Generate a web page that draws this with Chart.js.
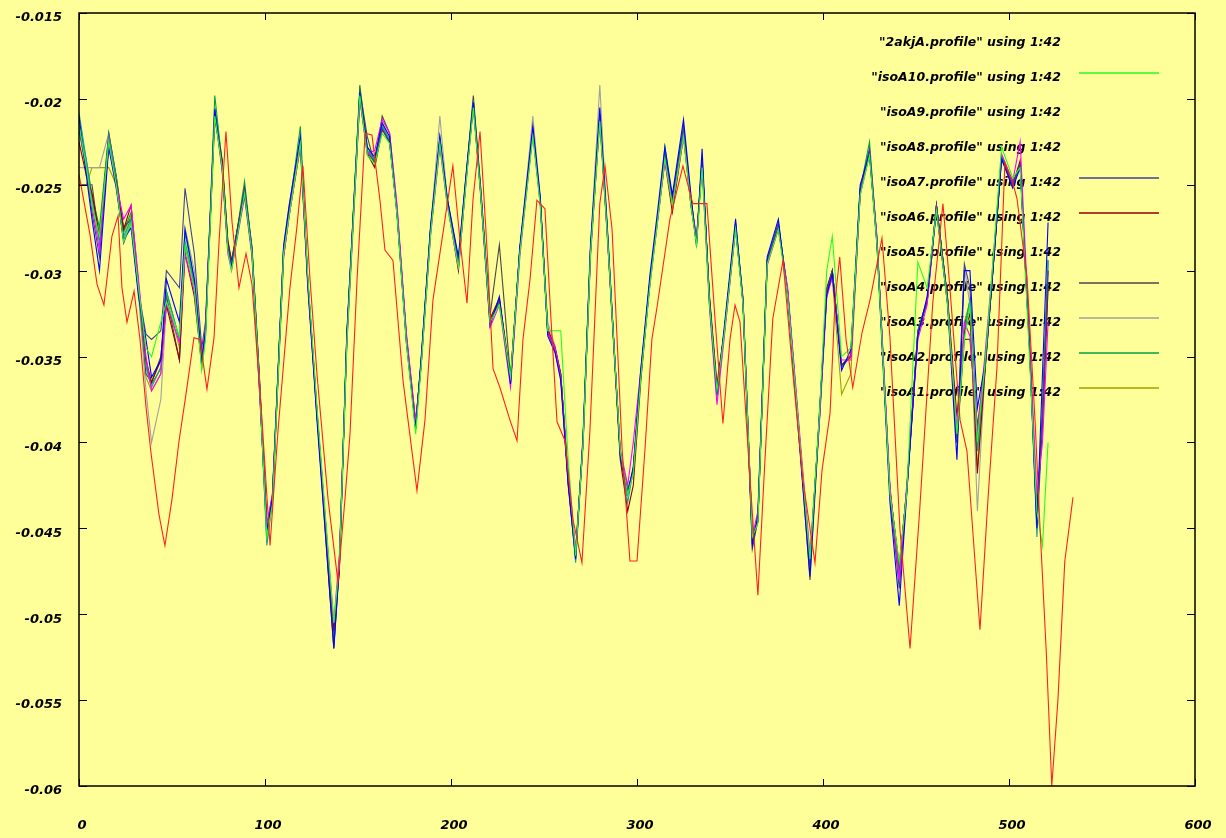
<!DOCTYPE html>
<html>
<head>
<meta charset="utf-8">
<script src="https://cdn.jsdelivr.net/npm/chart.js@4"></script>
<style>
html, body { margin: 0; padding: 0; background: #ffff99; }
#wrap { width: 1226px; height: 838px; }
</style>
</head>
<body>
<div id="wrap"><canvas id="chart" width="1226" height="838"></canvas></div>
<script>
// x ticks / y ticks
const xTicks = [0, 100, 200, 300, 400, 500, 600];
const yTicks = [-0.015, -0.02, -0.025, -0.03, -0.035, -0.04, -0.045, -0.05, -0.055, -0.06];

// 2akjA.profile (red)
const redX = [0, 5.9, 9.7, 13.4, 17.7, 21, 23.1, 25.8, 29.6, 32.8,
  36, 38.7, 43, 46.2, 50, 53.8, 57.5, 61.8, 65, 68.8,
  72.6, 75.3, 79, 82.3, 86, 89.8, 93, 98.4, 102.7, 107,
  113.4, 117, 120.4, 124.2, 128, 133.9, 139.2, 143, 145.7, 149.5,
  153.8, 157.5, 161.8, 164.5, 168.8, 174.2, 181.7, 186, 190.3, 195.7,
  201, 204.8, 208.6, 211.8, 215.6, 219.4, 222.6, 226.3, 231.7, 235.5,
  238.7, 242.5, 246.2, 250.5, 253.8, 257, 261.3, 265.6, 270.4, 274.7,
  280, 282.8, 286.6, 292, 296.2, 300, 304.3, 308, 310.8, 317.7,
  324.7, 330, 337.6, 342, 346.2, 350, 352.7, 355.4, 359.7, 365,
  368.8, 373, 378.5, 383.9, 389.2, 395.7, 399.5, 403.8, 406.5, 409,
  412.4, 416, 421, 425.3, 431.7, 436, 441.4, 446.8, 452, 459,
  464.5, 468.3, 473.7, 477.4, 484.4, 488.7, 493.5, 497.8, 501.6, 504.3,
  509.7, 514, 516.7, 520, 523, 526.3, 530, 534.4];
const redY = [-0.0244, -0.0279, -0.0308, -0.0320, -0.0280, -0.0268, -0.0310, -0.0330, -0.0312, -0.0340,
  -0.0379, -0.0406, -0.0442, -0.0460, -0.0433, -0.0399, -0.0372, -0.0339, -0.0340, -0.0369,
  -0.0339, -0.0283, -0.0219, -0.0272, -0.0310, -0.0290, -0.0308, -0.0387, -0.0460, -0.0393,
  -0.0310, -0.0276, -0.0239, -0.0305, -0.0361, -0.0433, -0.0481, -0.0433, -0.0395, -0.0305,
  -0.0220, -0.0221, -0.0259, -0.0288, -0.0294, -0.0364, -0.0428, -0.0387, -0.0317, -0.0278,
  -0.0239, -0.0282, -0.0319, -0.0259, -0.0219, -0.0288, -0.0357, -0.0368, -0.0387, -0.0399,
  -0.0340, -0.0305, -0.0259, -0.0264, -0.0329, -0.0388, -0.0399, -0.0445, -0.0470, -0.0393,
  -0.0261, -0.0239, -0.0276, -0.0404, -0.0469, -0.0469, -0.0404, -0.0340, -0.0321, -0.0270,
  -0.0239, -0.0261, -0.0261, -0.0329, -0.0389, -0.0340, -0.0320, -0.0330, -0.0404, -0.0489,
  -0.0410, -0.0328, -0.0294, -0.0361, -0.0422, -0.0470, -0.0416, -0.0383, -0.0317, -0.0292,
  -0.0340, -0.0368, -0.0336, -0.0317, -0.0281, -0.0339, -0.0451, -0.0520, -0.0439, -0.0319,
  -0.0261, -0.0311, -0.0387, -0.0405, -0.0509, -0.0433, -0.0357, -0.0237, -0.0247, -0.0258,
  -0.0304, -0.0387, -0.0450, -0.0521, -0.0600, -0.0550, -0.0469, -0.0432];

// residue positions shared by the isoA profiles
const profileX = [0, 4, 7, 11, 16, 20, 24, 28, 32, 36,
  39, 44, 47, 54, 57, 62, 66, 68, 73, 77,
  80, 82, 89, 93, 97, 101, 104, 110, 113, 119,
  123, 128, 137, 140, 144, 151, 155, 159, 163, 167,
  171, 176, 181, 184, 189, 194, 198, 204, 208, 212,
  216, 221, 226, 232, 237, 244, 248, 252, 256, 259,
  263, 267, 271, 275, 280, 284, 291, 295, 298, 302,
  307, 311, 315, 319, 325, 329, 332, 335, 339, 343,
  347, 353, 357, 362, 365, 370, 376, 381, 388, 393,
  398, 402, 405, 410, 415, 420, 425, 429, 436, 441,
  445, 451, 456, 461, 467, 472, 476, 479, 483, 487,
  491, 496, 502, 506, 511, 515, 518, 521];

const isoA10 = [-0.0215, -0.0240, -0.0262, -0.0280, -0.0225, -0.0250, -0.0283, -0.0272, -0.0310, -0.0345,
  -0.0350, -0.0330, -0.0318, -0.0338, -0.0285, -0.0310, -0.0358, -0.0340, -0.0210, -0.0240,
  -0.0288, -0.0300, -0.0255, -0.0290, -0.0366, -0.0455, -0.0436, -0.0290, -0.0268, -0.0226,
  -0.0303, -0.0380, -0.0505, -0.0470, -0.0342, -0.0198, -0.0233, -0.0238, -0.0220, -0.0226,
  -0.0268, -0.0342, -0.0395, -0.0355, -0.0279, -0.0226, -0.0262, -0.0298, -0.0250, -0.0205,
  -0.0256, -0.0330, -0.0320, -0.0362, -0.0290, -0.0222, -0.0262, -0.0335, -0.0335, -0.0335,
  -0.0410, -0.0466, -0.0400, -0.0290, -0.0213, -0.0278, -0.0405, -0.0430, -0.0418, -0.0363,
  -0.0308, -0.0272, -0.0235, -0.0262, -0.0222, -0.0262, -0.0285, -0.0240, -0.0320, -0.0370,
  -0.0336, -0.0276, -0.0320, -0.0455, -0.0447, -0.0296, -0.0276, -0.0315, -0.0405, -0.0468,
  -0.0385, -0.0300, -0.0280, -0.0350, -0.0345, -0.0256, -0.0233, -0.0285, -0.0430, -0.0470,
  -0.0430, -0.0295, -0.0310, -0.0265, -0.0320, -0.0395, -0.0340, -0.0320, -0.0400, -0.0355,
  -0.0300, -0.0228, -0.0246, -0.0240, -0.0350, -0.0440, -0.0460, -0.0400];
const isoA9 = [-0.0210, -0.0245, -0.0270, -0.0300, -0.0228, -0.0252, -0.0282, -0.0275, -0.0315, -0.0340,
  -0.0362, -0.0352, -0.0305, -0.0330, -0.0276, -0.0305, -0.0352, -0.0335, -0.0206, -0.0240,
  -0.0287, -0.0298, -0.0255, -0.0290, -0.0368, -0.0452, -0.0432, -0.0286, -0.0262, -0.0222,
  -0.0308, -0.0388, -0.0520, -0.0472, -0.0336, -0.0196, -0.0228, -0.0234, -0.0214, -0.0222,
  -0.0268, -0.0342, -0.0392, -0.0350, -0.0274, -0.0222, -0.0258, -0.0292, -0.0245, -0.0202,
  -0.0255, -0.0332, -0.0315, -0.0366, -0.0286, -0.0216, -0.0257, -0.0338, -0.0348, -0.0364,
  -0.0425, -0.0468, -0.0396, -0.0285, -0.0205, -0.0274, -0.0408, -0.0430, -0.0414, -0.0358,
  -0.0302, -0.0266, -0.0228, -0.0256, -0.0212, -0.0256, -0.0286, -0.0229, -0.0320, -0.0372,
  -0.0332, -0.0270, -0.0320, -0.0460, -0.0442, -0.0292, -0.0270, -0.0316, -0.0410, -0.0478,
  -0.0384, -0.0314, -0.0302, -0.0358, -0.0346, -0.0250, -0.0232, -0.0285, -0.0435, -0.0495,
  -0.0430, -0.0338, -0.0315, -0.0265, -0.0320, -0.0410, -0.0300, -0.0300, -0.0380, -0.0355,
  -0.0305, -0.0235, -0.0252, -0.0240, -0.0345, -0.0450, -0.0360, -0.0272];
const isoA8 = [-0.0215, -0.0240, -0.0262, -0.0288, -0.0224, -0.0250, -0.0270, -0.0262, -0.0305, -0.0350,
  -0.0370, -0.0360, -0.0318, -0.0342, -0.0290, -0.0312, -0.0352, -0.0332, -0.0208, -0.0242,
  -0.0290, -0.0300, -0.0257, -0.0292, -0.0370, -0.0448, -0.0430, -0.0292, -0.0268, -0.0227,
  -0.0310, -0.0385, -0.0505, -0.0465, -0.0344, -0.0200, -0.0232, -0.0230, -0.0212, -0.0220,
  -0.0262, -0.0336, -0.0388, -0.0355, -0.0280, -0.0228, -0.0262, -0.0298, -0.0250, -0.0204,
  -0.0257, -0.0333, -0.0320, -0.0368, -0.0292, -0.0220, -0.0262, -0.0336, -0.0345, -0.0362,
  -0.0420, -0.0462, -0.0402, -0.0292, -0.0212, -0.0280, -0.0404, -0.0425, -0.0400, -0.0358,
  -0.0308, -0.0272, -0.0236, -0.0262, -0.0222, -0.0260, -0.0280, -0.0240, -0.0322, -0.0378,
  -0.0338, -0.0276, -0.0318, -0.0455, -0.0440, -0.0297, -0.0276, -0.0310, -0.0402, -0.0465,
  -0.0390, -0.0316, -0.0303, -0.0352, -0.0352, -0.0256, -0.0232, -0.0280, -0.0425, -0.0480,
  -0.0425, -0.0340, -0.0320, -0.0264, -0.0320, -0.0392, -0.0330, -0.0338, -0.0395, -0.0350,
  -0.0300, -0.0232, -0.0248, -0.0225, -0.0340, -0.0430, -0.0400, -0.0330];
const isoA7 = [-0.0218, -0.0242, -0.0266, -0.0292, -0.0226, -0.0250, -0.0284, -0.0272, -0.0312, -0.0337,
  -0.0340, -0.0335, -0.0300, -0.0310, -0.0252, -0.0290, -0.0345, -0.0330, -0.0208, -0.0242,
  -0.0286, -0.0296, -0.0252, -0.0286, -0.0362, -0.0450, -0.0430, -0.0287, -0.0264, -0.0224,
  -0.0306, -0.0384, -0.0518, -0.0470, -0.0338, -0.0197, -0.0231, -0.0237, -0.0217, -0.0226,
  -0.0266, -0.0340, -0.0392, -0.0352, -0.0276, -0.0225, -0.0260, -0.0296, -0.0248, -0.0203,
  -0.0255, -0.0330, -0.0318, -0.0365, -0.0288, -0.0219, -0.0260, -0.0336, -0.0347, -0.0362,
  -0.0423, -0.0467, -0.0398, -0.0288, -0.0210, -0.0276, -0.0407, -0.0428, -0.0416, -0.0361,
  -0.0305, -0.0270, -0.0232, -0.0258, -0.0216, -0.0258, -0.0283, -0.0234, -0.0318, -0.0370,
  -0.0335, -0.0272, -0.0316, -0.0458, -0.0446, -0.0294, -0.0272, -0.0312, -0.0407, -0.0472,
  -0.0387, -0.0312, -0.0300, -0.0356, -0.0350, -0.0252, -0.0229, -0.0282, -0.0430, -0.0485,
  -0.0430, -0.0336, -0.0318, -0.0262, -0.0318, -0.0400, -0.0296, -0.0310, -0.0400, -0.0358,
  -0.0304, -0.0234, -0.0250, -0.0238, -0.0345, -0.0448, -0.0385, -0.0300];
const isoA6 = [-0.0225, -0.0245, -0.0255, -0.0280, -0.0228, -0.0248, -0.0276, -0.0262, -0.0308, -0.0352,
  -0.0365, -0.0352, -0.0320, -0.0352, -0.0290, -0.0315, -0.0355, -0.0335, -0.0212, -0.0236,
  -0.0283, -0.0295, -0.0252, -0.0288, -0.0365, -0.0448, -0.0435, -0.0292, -0.0268, -0.0228,
  -0.0306, -0.0382, -0.0510, -0.0475, -0.0340, -0.0200, -0.0232, -0.0240, -0.0218, -0.0225,
  -0.0266, -0.0338, -0.0388, -0.0354, -0.0278, -0.0226, -0.0260, -0.0300, -0.0248, -0.0203,
  -0.0255, -0.0328, -0.0316, -0.0362, -0.0288, -0.0220, -0.0260, -0.0334, -0.0345, -0.0360,
  -0.0420, -0.0464, -0.0400, -0.0290, -0.0212, -0.0278, -0.0410, -0.0440, -0.0425, -0.0365,
  -0.0306, -0.0271, -0.0236, -0.0266, -0.0222, -0.0262, -0.0283, -0.0238, -0.0315, -0.0366,
  -0.0335, -0.0275, -0.0318, -0.0455, -0.0446, -0.0296, -0.0275, -0.0312, -0.0405, -0.0470,
  -0.0386, -0.0310, -0.0300, -0.0355, -0.0350, -0.0255, -0.0232, -0.0283, -0.0428, -0.0472,
  -0.0428, -0.0336, -0.0318, -0.0262, -0.0316, -0.0385, -0.0336, -0.0325, -0.0418, -0.0360,
  -0.0305, -0.0235, -0.0250, -0.0236, -0.0342, -0.0440, -0.0390, -0.0310];
const isoA5 = [-0.0208, -0.0236, -0.0258, -0.0284, -0.0222, -0.0246, -0.0280, -0.0270, -0.0312, -0.0356,
  -0.0368, -0.0356, -0.0312, -0.0340, -0.0283, -0.0306, -0.0356, -0.0338, -0.0205, -0.0238,
  -0.0285, -0.0297, -0.0254, -0.0288, -0.0364, -0.0460, -0.0434, -0.0288, -0.0265, -0.0224,
  -0.0305, -0.0383, -0.0512, -0.0468, -0.0339, -0.0196, -0.0230, -0.0236, -0.0216, -0.0224,
  -0.0265, -0.0339, -0.0390, -0.0352, -0.0276, -0.0224, -0.0259, -0.0295, -0.0247, -0.0201,
  -0.0253, -0.0329, -0.0317, -0.0364, -0.0288, -0.0218, -0.0259, -0.0335, -0.0346, -0.0361,
  -0.0422, -0.0470, -0.0399, -0.0288, -0.0209, -0.0276, -0.0406, -0.0435, -0.0416, -0.0361,
  -0.0305, -0.0270, -0.0233, -0.0259, -0.0218, -0.0259, -0.0282, -0.0236, -0.0317, -0.0369,
  -0.0335, -0.0273, -0.0317, -0.0457, -0.0445, -0.0294, -0.0273, -0.0312, -0.0406, -0.0471,
  -0.0387, -0.0312, -0.0300, -0.0355, -0.0349, -0.0253, -0.0230, -0.0282, -0.0428, -0.0474,
  -0.0428, -0.0335, -0.0317, -0.0262, -0.0317, -0.0399, -0.0335, -0.0317, -0.0405, -0.0358,
  -0.0304, -0.0233, -0.0250, -0.0238, -0.0343, -0.0455, -0.0387, -0.0294];
const isoA4 = [-0.0250, -0.0250, -0.0250, -0.0282, -0.0220, -0.0245, -0.0275, -0.0270, -0.0310, -0.0360,
  -0.0365, -0.0350, -0.0315, -0.0352, -0.0285, -0.0308, -0.0352, -0.0336, -0.0206, -0.0236,
  -0.0282, -0.0294, -0.0254, -0.0287, -0.0362, -0.0448, -0.0432, -0.0288, -0.0266, -0.0225,
  -0.0306, -0.0385, -0.0520, -0.0470, -0.0338, -0.0195, -0.0222, -0.0238, -0.0210, -0.0220,
  -0.0264, -0.0338, -0.0392, -0.0352, -0.0276, -0.0224, -0.0258, -0.0294, -0.0246, -0.0198,
  -0.0252, -0.0326, -0.0285, -0.0362, -0.0288, -0.0218, -0.0260, -0.0334, -0.0346, -0.0360,
  -0.0424, -0.0466, -0.0398, -0.0288, -0.0210, -0.0278, -0.0406, -0.0428, -0.0416, -0.0360,
  -0.0305, -0.0270, -0.0232, -0.0258, -0.0218, -0.0262, -0.0284, -0.0236, -0.0318, -0.0370,
  -0.0335, -0.0274, -0.0318, -0.0462, -0.0445, -0.0294, -0.0274, -0.0313, -0.0408, -0.0480,
  -0.0388, -0.0312, -0.0300, -0.0355, -0.0350, -0.0253, -0.0230, -0.0282, -0.0428, -0.0474,
  -0.0428, -0.0335, -0.0317, -0.0262, -0.0317, -0.0400, -0.0340, -0.0340, -0.0390, -0.0358,
  -0.0304, -0.0233, -0.0250, -0.0238, -0.0343, -0.0445, -0.0380, -0.0300];
const isoA3 = [-0.0240, -0.0240, -0.0240, -0.0240, -0.0220, -0.0248, -0.0282, -0.0270, -0.0314, -0.0370,
  -0.0400, -0.0375, -0.0320, -0.0342, -0.0275, -0.0300, -0.0350, -0.0335, -0.0205, -0.0238,
  -0.0284, -0.0298, -0.0255, -0.0290, -0.0365, -0.0455, -0.0436, -0.0285, -0.0262, -0.0222,
  -0.0306, -0.0385, -0.0512, -0.0472, -0.0340, -0.0196, -0.0230, -0.0236, -0.0216, -0.0224,
  -0.0266, -0.0340, -0.0392, -0.0354, -0.0276, -0.0210, -0.0258, -0.0296, -0.0248, -0.0204,
  -0.0256, -0.0330, -0.0318, -0.0365, -0.0288, -0.0210, -0.0258, -0.0330, -0.0344, -0.0360,
  -0.0422, -0.0468, -0.0400, -0.0286, -0.0192, -0.0274, -0.0406, -0.0430, -0.0418, -0.0362,
  -0.0306, -0.0270, -0.0233, -0.0260, -0.0215, -0.0260, -0.0284, -0.0236, -0.0318, -0.0375,
  -0.0336, -0.0275, -0.0318, -0.0455, -0.0445, -0.0295, -0.0273, -0.0312, -0.0406, -0.0470,
  -0.0387, -0.0312, -0.0300, -0.0355, -0.0350, -0.0253, -0.0230, -0.0282, -0.0428, -0.0475,
  -0.0428, -0.0335, -0.0317, -0.0262, -0.0317, -0.0400, -0.0298, -0.0320, -0.0440, -0.0360,
  -0.0304, -0.0233, -0.0250, -0.0238, -0.0343, -0.0445, -0.0387, -0.0294];
const isoA2 = [-0.0214, -0.0236, -0.0256, -0.0275, -0.0220, -0.0245, -0.0277, -0.0266, -0.0310, -0.0355,
  -0.0366, -0.0357, -0.0312, -0.0340, -0.0278, -0.0305, -0.0354, -0.0337, -0.0198, -0.0238,
  -0.0286, -0.0298, -0.0248, -0.0288, -0.0364, -0.0458, -0.0432, -0.0288, -0.0265, -0.0216,
  -0.0305, -0.0383, -0.0515, -0.0469, -0.0339, -0.0192, -0.0228, -0.0236, -0.0215, -0.0224,
  -0.0265, -0.0339, -0.0390, -0.0352, -0.0276, -0.0222, -0.0259, -0.0295, -0.0247, -0.0201,
  -0.0253, -0.0329, -0.0317, -0.0364, -0.0288, -0.0218, -0.0259, -0.0335, -0.0346, -0.0361,
  -0.0422, -0.0466, -0.0399, -0.0288, -0.0209, -0.0276, -0.0406, -0.0428, -0.0416, -0.0361,
  -0.0305, -0.0270, -0.0228, -0.0259, -0.0218, -0.0259, -0.0282, -0.0236, -0.0317, -0.0369,
  -0.0335, -0.0273, -0.0317, -0.0457, -0.0445, -0.0294, -0.0273, -0.0312, -0.0406, -0.0471,
  -0.0387, -0.0312, -0.0300, -0.0355, -0.0349, -0.0253, -0.0225, -0.0282, -0.0428, -0.0474,
  -0.0428, -0.0335, -0.0317, -0.0262, -0.0317, -0.0399, -0.0335, -0.0317, -0.0405, -0.0358,
  -0.0304, -0.0233, -0.0250, -0.0238, -0.0343, -0.0445, -0.0387, -0.0294];
const isoA1 = [-0.0250, -0.0250, -0.0240, -0.0240, -0.0240, -0.0250, -0.0278, -0.0268, -0.0312, -0.0362,
  -0.0370, -0.0360, -0.0315, -0.0345, -0.0285, -0.0310, -0.0356, -0.0338, -0.0205, -0.0240,
  -0.0286, -0.0298, -0.0254, -0.0289, -0.0365, -0.0452, -0.0434, -0.0289, -0.0266, -0.0225,
  -0.0306, -0.0383, -0.0508, -0.0470, -0.0340, -0.0196, -0.0231, -0.0237, -0.0216, -0.0225,
  -0.0266, -0.0340, -0.0390, -0.0353, -0.0277, -0.0225, -0.0260, -0.0296, -0.0248, -0.0201,
  -0.0254, -0.0330, -0.0318, -0.0365, -0.0289, -0.0219, -0.0260, -0.0336, -0.0347, -0.0362,
  -0.0423, -0.0464, -0.0400, -0.0289, -0.0210, -0.0277, -0.0407, -0.0429, -0.0417, -0.0362,
  -0.0306, -0.0271, -0.0234, -0.0260, -0.0219, -0.0260, -0.0283, -0.0237, -0.0318, -0.0370,
  -0.0336, -0.0274, -0.0318, -0.0458, -0.0446, -0.0295, -0.0274, -0.0313, -0.0407, -0.0468,
  -0.0388, -0.0313, -0.0305, -0.0372, -0.0360, -0.0254, -0.0231, -0.0283, -0.0430, -0.0478,
  -0.0429, -0.0336, -0.0318, -0.0263, -0.0318, -0.0400, -0.0330, -0.0318, -0.0415, -0.0359,
  -0.0305, -0.0234, -0.0251, -0.0239, -0.0344, -0.0442, -0.0388, -0.0310];

// legend order, colours, whether the key shows a sample line
const seriesNames = ['2akjA', 'isoA10', 'isoA9', 'isoA8', 'isoA7', 'isoA6', 'isoA5', 'isoA4', 'isoA3', 'isoA2', 'isoA1'];
const seriesColors = ['#ff2020', '#22ff22', '#0000ff', '#ff00ff', '#404098', '#900000', '#10a0a0', '#484848', '#a0a0a0', '#00a040', '#a0a000'];
const showSample = [false, true, false, false, true, true, false, true, true, true, true];
const seriesY = [redY, isoA10, isoA9, isoA8, isoA7, isoA6, isoA5, isoA4, isoA3, isoA2, isoA1];

const datasets = seriesNames.map((name, i) => {
    const xs = i === 0 ? redX : profileX;
    return {
        label: '"' + name + '.profile" using 1:42',
        data: seriesY[i].map((y, j) => ({ x: xs[j], y: y })),
        borderColor: seriesColors[i],
        borderWidth: 1.1,
        pointRadius: 0,
        tension: 0,
        fill: false
    };
});

const tickFont = 'italic bold 13px "DejaVu Sans"';
const keyFont = 'italic bold 12.5px "DejaVu Sans"';

const gnuplotFrame = {
    id: 'gnuplotFrame',
    beforeDraw(chart) {
        const ctx = chart.ctx;
        ctx.save();
        ctx.fillStyle = '#ffff99';
        ctx.fillRect(0, 0, chart.width, chart.height);
        ctx.restore();
    },
    beforeDatasetsDraw(chart) {
        // key, lines are drawn over it
        const ctx = chart.ctx;
        ctx.save();
        ctx.font = keyFont;
        ctx.fillStyle = '#000';
        ctx.textAlign = 'right';
        ctx.textBaseline = 'middle';
        seriesNames.forEach((name, i) => {
            const y = 43 + i * 35;
            ctx.fillText('"' + name + '.profile" using 1:42', 1061, y);
            if (showSample[i]) {
                ctx.strokeStyle = seriesColors[i];
                ctx.lineWidth = 1.5;
                ctx.beginPath();
                ctx.moveTo(1079, y - 5);
                ctx.lineTo(1159, y - 5);
                ctx.stroke();
            }
        });
        ctx.restore();
    },
    afterDatasetsDraw(chart) {
        const ctx = chart.ctx;
        const a = chart.chartArea;
        const xs = chart.scales.x;
        const ys = chart.scales.y;
        ctx.save();
        ctx.strokeStyle = '#000';
        ctx.lineWidth = 1.5;
        ctx.strokeRect(a.left, a.top, a.right - a.left, a.bottom - a.top);
        ctx.lineWidth = 1;
        ctx.beginPath();
        xTicks.forEach(v => {
            const px = Math.round(xs.getPixelForValue(v)) + 0.5;
            ctx.moveTo(px, a.bottom); ctx.lineTo(px, a.bottom - 7);
            ctx.moveTo(px, a.top); ctx.lineTo(px, a.top + 7);
        });
        yTicks.forEach(v => {
            const py = Math.round(ys.getPixelForValue(v)) + 0.5;
            ctx.moveTo(a.left, py); ctx.lineTo(a.left + 8, py);
            ctx.moveTo(a.right, py); ctx.lineTo(a.right - 8, py);
        });
        ctx.stroke();

        ctx.fillStyle = '#000';
        ctx.font = tickFont;
        ctx.textBaseline = 'middle';
        ctx.textAlign = 'right';
        yTicks.forEach(v => {
            const py = ys.getPixelForValue(v);
            ctx.fillText(String(Math.round(v * 1000) / 1000), 62, py + 5);
        });
        ctx.textAlign = 'center';
        xTicks.forEach(v => {
            const px = xs.getPixelForValue(v);
            ctx.fillText(String(v), px + 3, 826);
        });
        ctx.restore();
    }
};

new Chart(document.getElementById('chart'), {
    type: 'line',
    data: { datasets: datasets },
    options: {
        responsive: false,
        animation: false,
        parsing: true,
        layout: { padding: { left: 79, right: 31, top: 13, bottom: 52 } },
        scales: {
            x: { type: 'linear', min: 0, max: 600, display: false },
            y: { type: 'linear', min: -0.06, max: -0.015, display: false }
        },
        plugins: {
            legend: { display: false },
            tooltip: { enabled: false }
        }
    },
    plugins: [gnuplotFrame]
});
</script>
</body>
</html>
